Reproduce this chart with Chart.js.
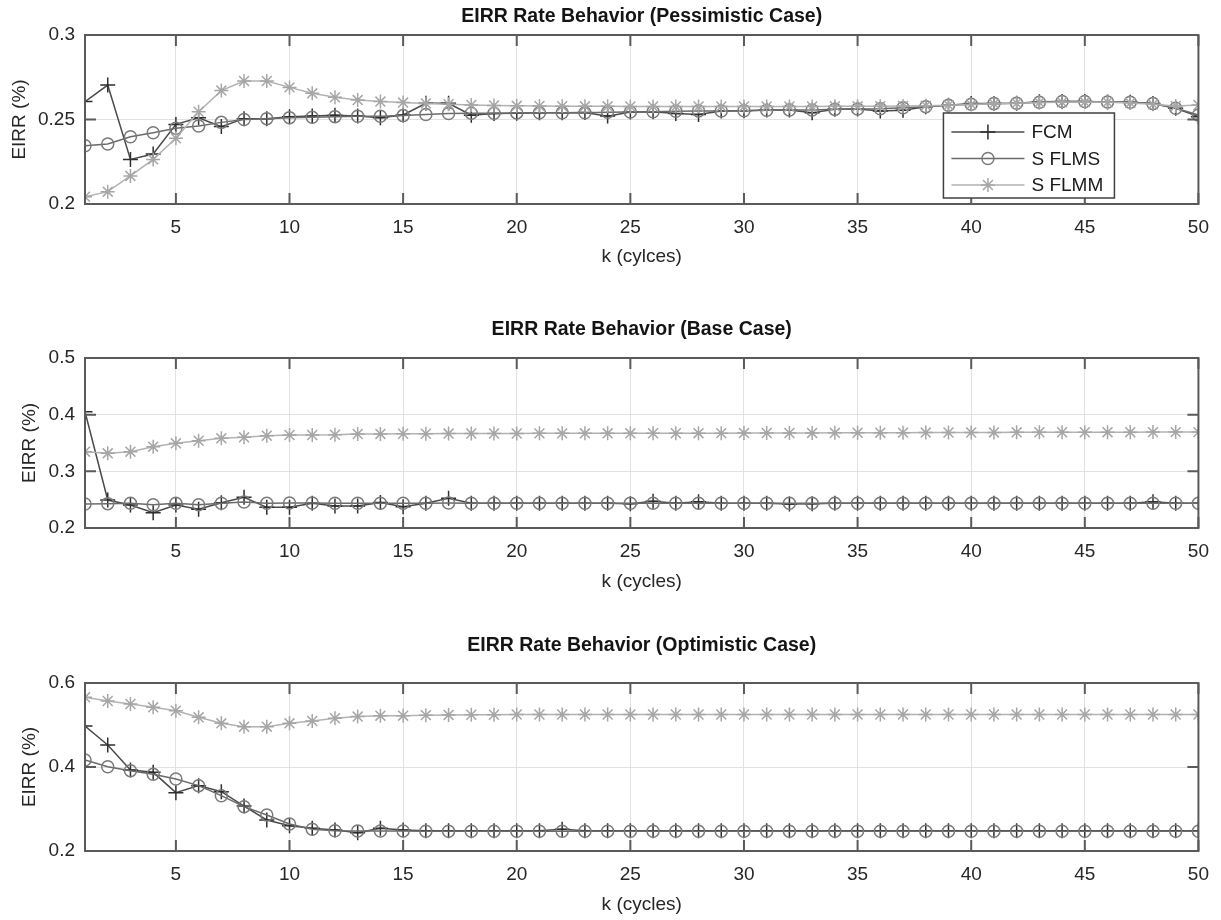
<!DOCTYPE html>
<html>
<head>
<meta charset="utf-8">
<script src="https://cdn.jsdelivr.net/npm/chart.js@4.4.1/dist/chart.umd.min.js"></script>
<style>
  html, body { margin: 0; padding: 0; background: #fff; }
  body { width: 1221px; height: 920px; position: relative; overflow: hidden; }
  canvas { position: absolute; left: 0; }
</style>
</head>
<body>
<canvas id="c1" width="1221" height="272" style="top:0px"></canvas>
<canvas id="c2" width="1221" height="310" style="top:290px"></canvas>
<canvas id="c3" width="1221" height="310" style="top:610px"></canvas>
<script>
// ---------- data ----------
const kCycles = [1,2,3,4,5,6,7,8,9,10,11,12,13,14,15,16,17,18,19,20,21,22,23,24,25,
                 26,27,28,29,30,31,32,33,34,35,36,37,38,39,40,41,42,43,44,45,46,47,48,49,50];
const seriesNames = ['FCM', 'S FLMS', 'S FLMM'];
const xTickValues = [5,10,15,20,25,30,35,40,45,50];
const xTickLabels = ['5','10','15','20','25','30','35','40','45','50'];

const titles = ['EIRR Rate Behavior (Pessimistic Case)', 'EIRR Rate Behavior (Base Case)', 'EIRR Rate Behavior (Optimistic Case)'];
const xLabels = ['k (cylces)', 'k (cycles)', 'k (cycles)'];
const yLabel = 'EIRR (%)';

const pessYTicks = [0.2, 0.25, 0.3];
const pessYTickLabels = ['0.2', '0.25', '0.3'];
const baseYTicks = [0.2, 0.3, 0.4, 0.5];
const baseYTickLabels = ['0.2', '0.3', '0.4', '0.5'];
const optYTicks = [0.2, 0.4, 0.6];
const optYTickLabels = ['0.2', '0.4', '0.6'];

const pessFCM = [0.2606,0.2704,0.2264,0.2296,0.2471,0.2510,0.2458,0.2505,0.2505,0.2517,
                 0.2521,0.2525,0.2521,0.2510,0.2527,0.2596,0.2596,0.2525,0.2536,0.2537,
                 0.2540,0.2540,0.2541,0.2520,0.2545,0.2546,0.2535,0.2530,0.2550,0.2552,
                 0.2556,0.2556,0.2540,0.2560,0.2562,0.2550,0.2555,0.2576,0.2584,0.2595,
                 0.2594,0.2596,0.2605,0.2606,0.2606,0.2604,0.2602,0.2594,0.2566,0.2517];
const pessFLMS = [0.2345,0.2355,0.2398,0.2422,0.2448,0.2462,0.2483,0.2500,0.2505,0.2511,
                  0.2513,0.2517,0.2519,0.2519,0.2523,0.2530,0.2535,0.2537,0.2537,0.2539,
                  0.2540,0.2540,0.2540,0.2543,0.2544,0.2546,0.2549,0.2550,0.2550,0.2552,
                  0.2555,0.2556,0.2556,0.2560,0.2562,0.2564,0.2570,0.2576,0.2584,0.2590,
                  0.2594,0.2596,0.2602,0.2606,0.2606,0.2604,0.2602,0.2594,0.2566,0.2527];
const pessFLMM = [0.2043,0.2073,0.2166,0.2264,0.2389,0.2546,0.2671,0.2728,0.2728,0.2690,
                  0.2655,0.2631,0.2615,0.2606,0.2600,0.2595,0.2590,0.2586,0.2583,0.2581,
                  0.2580,0.2579,0.2578,0.2578,0.2577,0.2577,0.2577,0.2577,0.2577,0.2577,
                  0.2577,0.2577,0.2577,0.2578,0.2578,0.2579,0.2580,0.2582,0.2585,0.2589,
                  0.2593,0.2596,0.2600,0.2602,0.2603,0.2602,0.2598,0.2590,0.2580,0.2586];

const baseFCM = [0.4053,0.2494,0.2406,0.2270,0.2406,0.2330,0.2447,0.2542,0.2365,0.2365,
                 0.2436,0.2388,0.2388,0.2448,0.2377,0.2436,0.2524,0.2436,0.2436,0.2436,
                 0.2436,0.2436,0.2436,0.2436,0.2430,0.2470,0.2436,0.2465,0.2436,0.2436,
                 0.2436,0.2425,0.2430,0.2436,0.2436,0.2436,0.2436,0.2436,0.2436,0.2436,
                 0.2436,0.2436,0.2436,0.2436,0.2436,0.2436,0.2436,0.2462,0.2436,0.2436];
const baseFLMS = [0.2424,0.2430,0.2436,0.2410,0.2436,0.2412,0.2436,0.2458,0.2436,0.2440,
                  0.2440,0.2438,0.2438,0.2438,0.2436,0.2436,0.2440,0.2438,0.2436,0.2436,
                  0.2436,0.2436,0.2436,0.2436,0.2436,0.2436,0.2436,0.2436,0.2436,0.2436,
                  0.2436,0.2436,0.2436,0.2436,0.2436,0.2436,0.2436,0.2436,0.2436,0.2436,
                  0.2436,0.2436,0.2436,0.2436,0.2436,0.2436,0.2436,0.2436,0.2436,0.2436];
const baseFLMM = [0.3347,0.3318,0.3347,0.3435,0.3494,0.3540,0.3583,0.3600,0.3629,0.3641,
                  0.3641,0.3645,0.3659,0.3660,0.3664,0.3664,0.3666,0.3667,0.3667,0.3668,
                  0.3670,0.3670,0.3671,0.3671,0.3671,0.3672,0.3672,0.3673,0.3674,0.3675,
                  0.3676,0.3677,0.3678,0.3680,0.3681,0.3682,0.3683,0.3684,0.3685,0.3686,
                  0.3687,0.3688,0.3689,0.3690,0.3690,0.3691,0.3691,0.3692,0.3692,0.3692];

const optFCM = [0.4976,0.4524,0.3929,0.3873,0.3389,0.3556,0.3413,0.3071,0.2738,0.2603,
                0.2540,0.2500,0.2436,0.2540,0.2500,0.2480,0.2480,0.2480,0.2480,0.2480,
                0.2480,0.2520,0.2480,0.2480,0.2480,0.2480,0.2480,0.2480,0.2480,0.2480,
                0.2480,0.2480,0.2480,0.2480,0.2480,0.2480,0.2480,0.2480,0.2480,0.2480,
                0.2480,0.2480,0.2480,0.2480,0.2480,0.2480,0.2480,0.2480,0.2480,0.2480];
const optFLMS = [0.4167,0.4008,0.3913,0.3825,0.3714,0.3556,0.3317,0.3056,0.2857,0.2643,
                 0.2516,0.2484,0.2476,0.2476,0.2476,0.2472,0.2472,0.2470,0.2470,0.2470,
                 0.2470,0.2470,0.2470,0.2470,0.2470,0.2470,0.2470,0.2470,0.2470,0.2470,
                 0.2470,0.2470,0.2470,0.2470,0.2470,0.2470,0.2470,0.2470,0.2470,0.2470,
                 0.2470,0.2470,0.2470,0.2470,0.2470,0.2470,0.2470,0.2470,0.2470,0.2470];
const optFLMM = [0.5659,0.5571,0.5500,0.5421,0.5340,0.5183,0.5040,0.4960,0.4960,0.5040,
                 0.5095,0.5160,0.5200,0.5222,0.5222,0.5235,0.5240,0.5245,0.5245,0.5250,
                 0.5250,0.5250,0.5250,0.5250,0.5250,0.5250,0.5250,0.5250,0.5250,0.5250,
                 0.5250,0.5250,0.5250,0.5250,0.5250,0.5250,0.5250,0.5250,0.5250,0.5250,
                 0.5250,0.5250,0.5250,0.5250,0.5250,0.5250,0.5250,0.5250,0.5250,0.5250];

// ---------- styles ----------
const FONT = "'Liberation Sans', Arial, Helvetica, sans-serif";
const seriesStyle = [
  { line: '#4a4a4a', point: '#2e2e2e', pointStyle: 'cross',  radius: 7.5, order: 3 },
  { line: '#6a6a6a', point: '#7a7a7a', pointStyle: 'circle', radius: 6,   order: 2 },
  { line: '#b2b2b2', point: '#a6a6a6', pointStyle: 'star',   radius: 7,   order: 1 }
];
const BOX_COLOR = '#5a5a5a';
const TICK_LEN = 11;

const frameworkPlugin = {
  id: 'matlabBox',
  afterDatasetsDraw(chart) {
    const ctx = chart.ctx, a = chart.chartArea;
    const xs = chart.scales.x, ys = chart.scales.y;
    ctx.save();
    ctx.strokeStyle = BOX_COLOR;
    ctx.lineWidth = 2;
    ctx.strokeRect(a.left, a.top, a.right - a.left, a.bottom - a.top);
    ctx.beginPath();
    xs.ticks.forEach(t => {
      const px = xs.getPixelForValue(t.value);
      ctx.moveTo(px, a.bottom); ctx.lineTo(px, a.bottom - TICK_LEN);
      ctx.moveTo(px, a.top); ctx.lineTo(px, a.top + TICK_LEN);
    });
    ys.ticks.forEach(t => {
      const py = ys.getPixelForValue(t.value);
      ctx.moveTo(a.left, py); ctx.lineTo(a.left + TICK_LEN, py);
      ctx.moveTo(a.right, py); ctx.lineTo(a.right - TICK_LEN, py);
    });
    ctx.stroke();
    ctx.restore();
  }
};

const legendPlugin = {
  id: 'matlabLegend',
  afterDraw(chart, args, opts) {
    if (!opts || !opts.show) return;
    const ctx = chart.ctx, a = chart.chartArea;
    const left = a.right - 255, right = a.right - 84;
    const top = a.top + 78, bottom = a.top + 163;
    ctx.save();
    ctx.fillStyle = '#ffffff';
    ctx.fillRect(left, top, right - left, bottom - top);
    ctx.strokeStyle = '#404040';
    ctx.lineWidth = 1.5;
    ctx.strokeRect(left, top, right - left, bottom - top);
    chart.data.datasets.forEach((ds, i) => {
      const y = top + 19 + i * 26.5;
      ctx.strokeStyle = ds.borderColor;
      ctx.lineWidth = 1.5;
      ctx.beginPath();
      ctx.moveTo(left + 8, y); ctx.lineTo(left + 81, y);
      ctx.stroke();
      ctx.strokeStyle = ds.pointBorderColor;
      ctx.fillStyle = 'rgba(0,0,0,0)';
      ctx.lineWidth = 1.5;
      Chart.helpers.drawPoint(ctx, { pointStyle: ds.pointStyle, radius: ds.pointRadius, borderWidth: 1.5, rotation: 0 }, left + 44.5, y);
      ctx.fillStyle = '#1a1a1a';
      ctx.font = '19px ' + FONT;
      ctx.textBaseline = 'middle';
      ctx.textAlign = 'left';
      ctx.fillText(ds.label, left + 88, y + 1);
    });
    ctx.restore();
  }
};

function makeChart(id, H, g, title, xLabel, yMin, yMax, yTicks, yTickLabels, seriesData, showLegend, yTitleOffset) {
  const datasets = seriesData.map((arr, i) => ({
    label: seriesNames[i],
    data: kCycles.map((k, j) => ({ x: k, y: arr[j] })),
    borderColor: seriesStyle[i].line,
    borderWidth: 1.5,
    pointStyle: seriesStyle[i].pointStyle,
    pointRadius: seriesStyle[i].radius,
    pointBorderColor: seriesStyle[i].point,
    pointBackgroundColor: 'rgba(0,0,0,0)',
    pointBorderWidth: 1.5,
    tension: 0,
    fill: false,
    order: seriesStyle[i].order
  }));
  return new Chart(document.getElementById(id), {
    type: 'line',
    data: { datasets },
    plugins: [frameworkPlugin, legendPlugin],
    options: {
      responsive: false,
      animation: false,
      events: [],
      layout: { padding: { left: 0, right: 19, top: 0, bottom: 0 } },
      plugins: {
        legend: { display: false },
        tooltip: { enabled: false },
        title: {
          display: true,
          text: title,
          fullSize: false,
          color: '#141414',
          font: { family: FONT, size: 19.5, weight: 'bold', lineHeight: 1.2 },
          padding: { top: g.titleC - 11.7, bottom: g.plotTop - g.titleC - 11.7 }
        },
        matlabLegend: { show: showLegend }
      },
      scales: {
        x: {
          type: 'linear',
          min: 1, max: 50,
          afterBuildTicks: s => { s.ticks = xTickValues.map(v => ({ value: v })); },
          afterFit: s => { s.height = H - g.plotBottom; },
          ticks: {
            callback: (v, i) => xTickLabels[i],
            color: '#262626',
            font: { family: FONT, size: 19 },
            padding: 12,
            maxRotation: 0,
            autoSkip: false
          },
          grid: { color: '#e2e2e2', lineWidth: 1, drawTicks: false },
          border: { display: false },
          title: {
            display: true,
            text: xLabel,
            color: '#262626',
            font: { family: FONT, size: 19, lineHeight: 1.2 },
            padding: { top: 0, bottom: H - g.xlabelC - 11.4 }
          }
        },
        y: {
          type: 'linear',
          min: yMin, max: yMax,
          afterBuildTicks: s => { s.ticks = yTicks.map(v => ({ value: v })); },
          afterFit: s => { s.width = 85; },
          ticks: {
            callback: (v, i) => yTickLabels[i],
            color: '#262626',
            font: { family: FONT, size: 19 },
            padding: 10
          },
          grid: { color: '#e2e2e2', lineWidth: 1, drawTicks: false },
          border: { display: false },
          title: {
            display: true,
            text: yLabel,
            color: '#262626',
            font: { family: FONT, size: 19, lineHeight: 1.2 },
            padding: { top: yTitleOffset - 11.4, bottom: 0 }
          }
        }
      }
    }
  });
}

makeChart('c1', 272, { titleC: 17, plotTop: 35, plotBottom: 204, xlabelC: 257 },
  titles[0], xLabels[0], 0.2, 0.3, pessYTicks, pessYTickLabels, [pessFCM, pessFLMS, pessFLMM], true, 20);
makeChart('c2', 310, { titleC: 40, plotTop: 68, plotBottom: 238, xlabelC: 292 },
  titles[1], xLabels[1], 0.2, 0.5, baseYTicks, baseYTickLabels, [baseFCM, baseFLMS, baseFLMM], false, 30);
makeChart('c3', 310, { titleC: 36, plotTop: 73, plotBottom: 241, xlabelC: 295 },
  titles[2], xLabels[2], 0.2, 0.6, optYTicks, optYTickLabels, [optFCM, optFLMS, optFLMM], false, 30);
</script>
</body>
</html>
